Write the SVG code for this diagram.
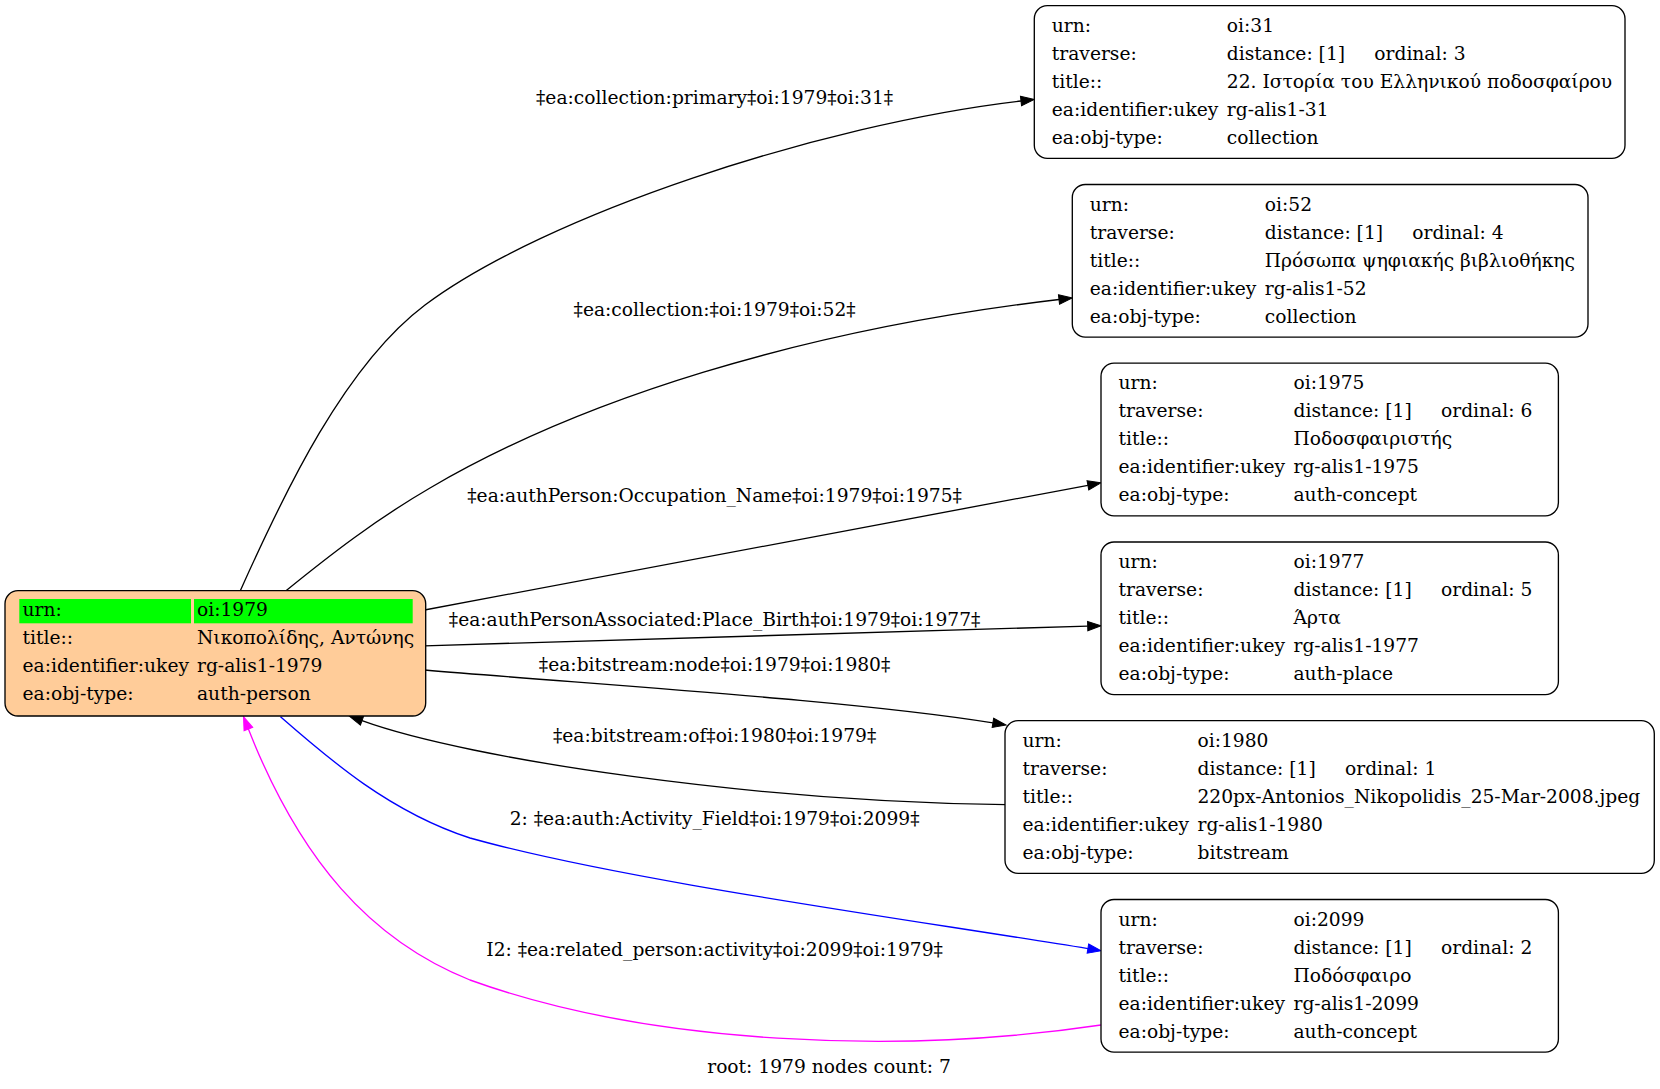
<svg xmlns="http://www.w3.org/2000/svg" width="1660" height="1089" viewBox="0 0 1660 1089">
<style>
text{font-family:"DejaVu Serif","Liberation Serif",serif;font-size:18.67px;fill:#000}
.box{fill:#fff;stroke:#000;stroke-width:1.33}
.root{fill:#ffcc99;stroke:#000;stroke-width:1.33}
.hl{fill:#00ff00}
.e{fill:none;stroke:#000;stroke-width:1.33}
.blue{stroke:#0000ff}
.mag{stroke:#ff00ff}
.el{text-anchor:middle}
</style>
<defs>
<marker id="ak" markerUnits="userSpaceOnUse" markerWidth="14" markerHeight="10" refX="0" refY="4.67" orient="auto" overflow="visible"><path d="M0,0 L13.3,4.67 L0,9.33 z" fill="#000" stroke="#000" stroke-width="1"/></marker>
<marker id="ab" markerUnits="userSpaceOnUse" markerWidth="14" markerHeight="10" refX="0" refY="4.67" orient="auto" overflow="visible"><path d="M0,0 L13.3,4.67 L0,9.33 z" fill="#0000ff" stroke="#0000ff" stroke-width="1"/></marker>
<marker id="am" markerUnits="userSpaceOnUse" markerWidth="14" markerHeight="10" refX="0" refY="4.67" orient="auto" overflow="visible"><path d="M0,0 L13.3,4.67 L0,9.33 z" fill="#ff00ff" stroke="#ff00ff" stroke-width="1"/></marker>
</defs>
<rect width="1660" height="1089" fill="#fff"/>
<g id="connectors">
<path class="e" d="M240.3,590.7 C285,491 345,365 425,305 C545,215 822,124 1021,101" marker-end="url(#ak)"/>
<text class="el" x="714.6" y="104">‡ea:collection:primary‡oi:1979‡oi:31‡</text>
<path class="e" d="M286,590.7 C330,555 375,520 430,488 C580,400 800,330 1059,299.5" marker-end="url(#ak)"/>
<text class="el" x="714.6" y="315.5">‡ea:collection:‡oi:1979‡oi:52‡</text>
<path class="e" d="M424.5,610 L1087.9,485.3" marker-end="url(#ak)"/>
<text class="el" x="714.6" y="502">‡ea:authPerson:Occupation_Name‡oi:1979‡oi:1975‡</text>
<path class="e" d="M424.5,645.8 L1087.7,626.1" marker-end="url(#ak)"/>
<text class="el" x="714.6" y="626">‡ea:authPersonAssociated:Place_Birth‡oi:1979‡oi:1977‡</text>
<path class="e" d="M424.5,670 C600,685 850,700 992.9,722.9" marker-end="url(#ak)"/>
<text class="el" x="714.6" y="671">‡ea:bitstream:node‡oi:1979‡oi:1980‡</text>
<path class="e" d="M1006,804.6 C760,802 470,760 362,720.7" marker-end="url(#ak)"/>
<text class="el" x="714.6" y="742">‡ea:bitstream:of‡oi:1980‡oi:1979‡</text>
<path class="e blue" d="M280.5,716.7 C330,760 390,812 470,838 C620,880 900,918 1087.9,948.6" marker-end="url(#ab)"/>
<text class="el" x="714.6" y="825">2: ‡ea:auth:Activity_Field‡oi:1979‡oi:2099‡</text>
<path class="e mag" d="M1101,1025 C900,1055 650,1045 470,980 C370,940 300,860 248.4,729.1" marker-end="url(#am)"/>
<text class="el" x="714.6" y="956">I2: ‡ea:related_person:activity‡oi:2099‡oi:1979‡</text>
</g>
<g id="node-1979" transform="translate(5,590.7)">
<rect class="root" x="0" y="0" width="420.7" height="125.3" rx="13"/>
<rect class="hl" x="14.3" y="8.3" width="171.7" height="24.3"/>
<rect class="hl" x="189" y="8.3" width="218.7" height="24.3"/>
<text x="17.5" y="25.5">urn:</text><text x="192" y="25.5">oi:1979</text>
<text x="17.5" y="53.5">title::</text><text x="192" y="53.5">Νικοπολίδης, Αντώνης</text>
<text x="17.5" y="81.5">ea:identifier:ukey</text><text x="192" y="81.5">rg-alis1-1979</text>
<text x="17.5" y="109.5">ea:obj-type:</text><text x="192" y="109.5">auth-person</text>
</g>
<g id="node-31" transform="translate(1034.3,5.7)">
<rect class="box" x="0" y="0" width="590.7" height="152.6" rx="13"/>
<text x="17.5" y="26.3">urn:</text><text x="192.5" y="26.3">oi:31</text>
<text x="17.5" y="54.3">traverse:</text><text x="192.5" y="54.3">distance: [1]</text><text x="340" y="54.3">ordinal: 3</text>
<text x="17.5" y="82.3">title::</text><text x="192.5" y="82.3">22. Ιστορία του Ελληνικού ποδοσφαίρου</text>
<text x="17.5" y="110.3">ea:identifier:ukey</text><text x="192.5" y="110.3">rg-alis1-31</text>
<text x="17.5" y="138.3">ea:obj-type:</text><text x="192.5" y="138.3">collection</text>
</g>
<g id="node-52" transform="translate(1072.3,184.5)">
<rect class="box" x="0" y="0" width="515.7" height="152.6" rx="13"/>
<text x="17.5" y="26.3">urn:</text><text x="192.5" y="26.3">oi:52</text>
<text x="17.5" y="54.3">traverse:</text><text x="192.5" y="54.3">distance: [1]</text><text x="340" y="54.3">ordinal: 4</text>
<text x="17.5" y="82.3">title::</text><text x="192.5" y="82.3">Πρόσωπα ψηφιακής βιβλιοθήκης</text>
<text x="17.5" y="110.3">ea:identifier:ukey</text><text x="192.5" y="110.3">rg-alis1-52</text>
<text x="17.5" y="138.3">ea:obj-type:</text><text x="192.5" y="138.3">collection</text>
</g>
<g id="node-1975" transform="translate(1101,363.2)">
<rect class="box" x="0" y="0" width="457.4" height="152.6" rx="13"/>
<text x="17.5" y="26.3">urn:</text><text x="192.5" y="26.3">oi:1975</text>
<text x="17.5" y="54.3">traverse:</text><text x="192.5" y="54.3">distance: [1]</text><text x="340" y="54.3">ordinal: 6</text>
<text x="17.5" y="82.3">title::</text><text x="192.5" y="82.3">Ποδοσφαιριστής</text>
<text x="17.5" y="110.3">ea:identifier:ukey</text><text x="192.5" y="110.3">rg-alis1-1975</text>
<text x="17.5" y="138.3">ea:obj-type:</text><text x="192.5" y="138.3">auth-concept</text>
</g>
<g id="node-1977" transform="translate(1101,542)">
<rect class="box" x="0" y="0" width="457.4" height="152.6" rx="13"/>
<text x="17.5" y="26.3">urn:</text><text x="192.5" y="26.3">oi:1977</text>
<text x="17.5" y="54.3">traverse:</text><text x="192.5" y="54.3">distance: [1]</text><text x="340" y="54.3">ordinal: 5</text>
<text x="17.5" y="82.3">title::</text><text x="192.5" y="82.3">Άρτα</text>
<text x="17.5" y="110.3">ea:identifier:ukey</text><text x="192.5" y="110.3">rg-alis1-1977</text>
<text x="17.5" y="138.3">ea:obj-type:</text><text x="192.5" y="138.3">auth-place</text>
</g>
<g id="node-1980" transform="translate(1005,720.7)">
<rect class="box" x="0" y="0" width="649.3" height="152.6" rx="13"/>
<text x="17.5" y="26.3">urn:</text><text x="192.5" y="26.3">oi:1980</text>
<text x="17.5" y="54.3">traverse:</text><text x="192.5" y="54.3">distance: [1]</text><text x="340" y="54.3">ordinal: 1</text>
<text x="17.5" y="82.3">title::</text><text x="192.5" y="82.3">220px-Antonios_Nikopolidis_25-Mar-2008.jpeg</text>
<text x="17.5" y="110.3">ea:identifier:ukey</text><text x="192.5" y="110.3">rg-alis1-1980</text>
<text x="17.5" y="138.3">ea:obj-type:</text><text x="192.5" y="138.3">bitstream</text>
</g>
<g id="node-2099" transform="translate(1101,899.5)">
<rect class="box" x="0" y="0" width="457.4" height="152.6" rx="13"/>
<text x="17.5" y="26.3">urn:</text><text x="192.5" y="26.3">oi:2099</text>
<text x="17.5" y="54.3">traverse:</text><text x="192.5" y="54.3">distance: [1]</text><text x="340" y="54.3">ordinal: 2</text>
<text x="17.5" y="82.3">title::</text><text x="192.5" y="82.3">Ποδόσφαιρο</text>
<text x="17.5" y="110.3">ea:identifier:ukey</text><text x="192.5" y="110.3">rg-alis1-2099</text>
<text x="17.5" y="138.3">ea:obj-type:</text><text x="192.5" y="138.3">auth-concept</text>
</g>
<text x="829" y="1073" text-anchor="middle">root: 1979 nodes count: 7</text>
</svg>
